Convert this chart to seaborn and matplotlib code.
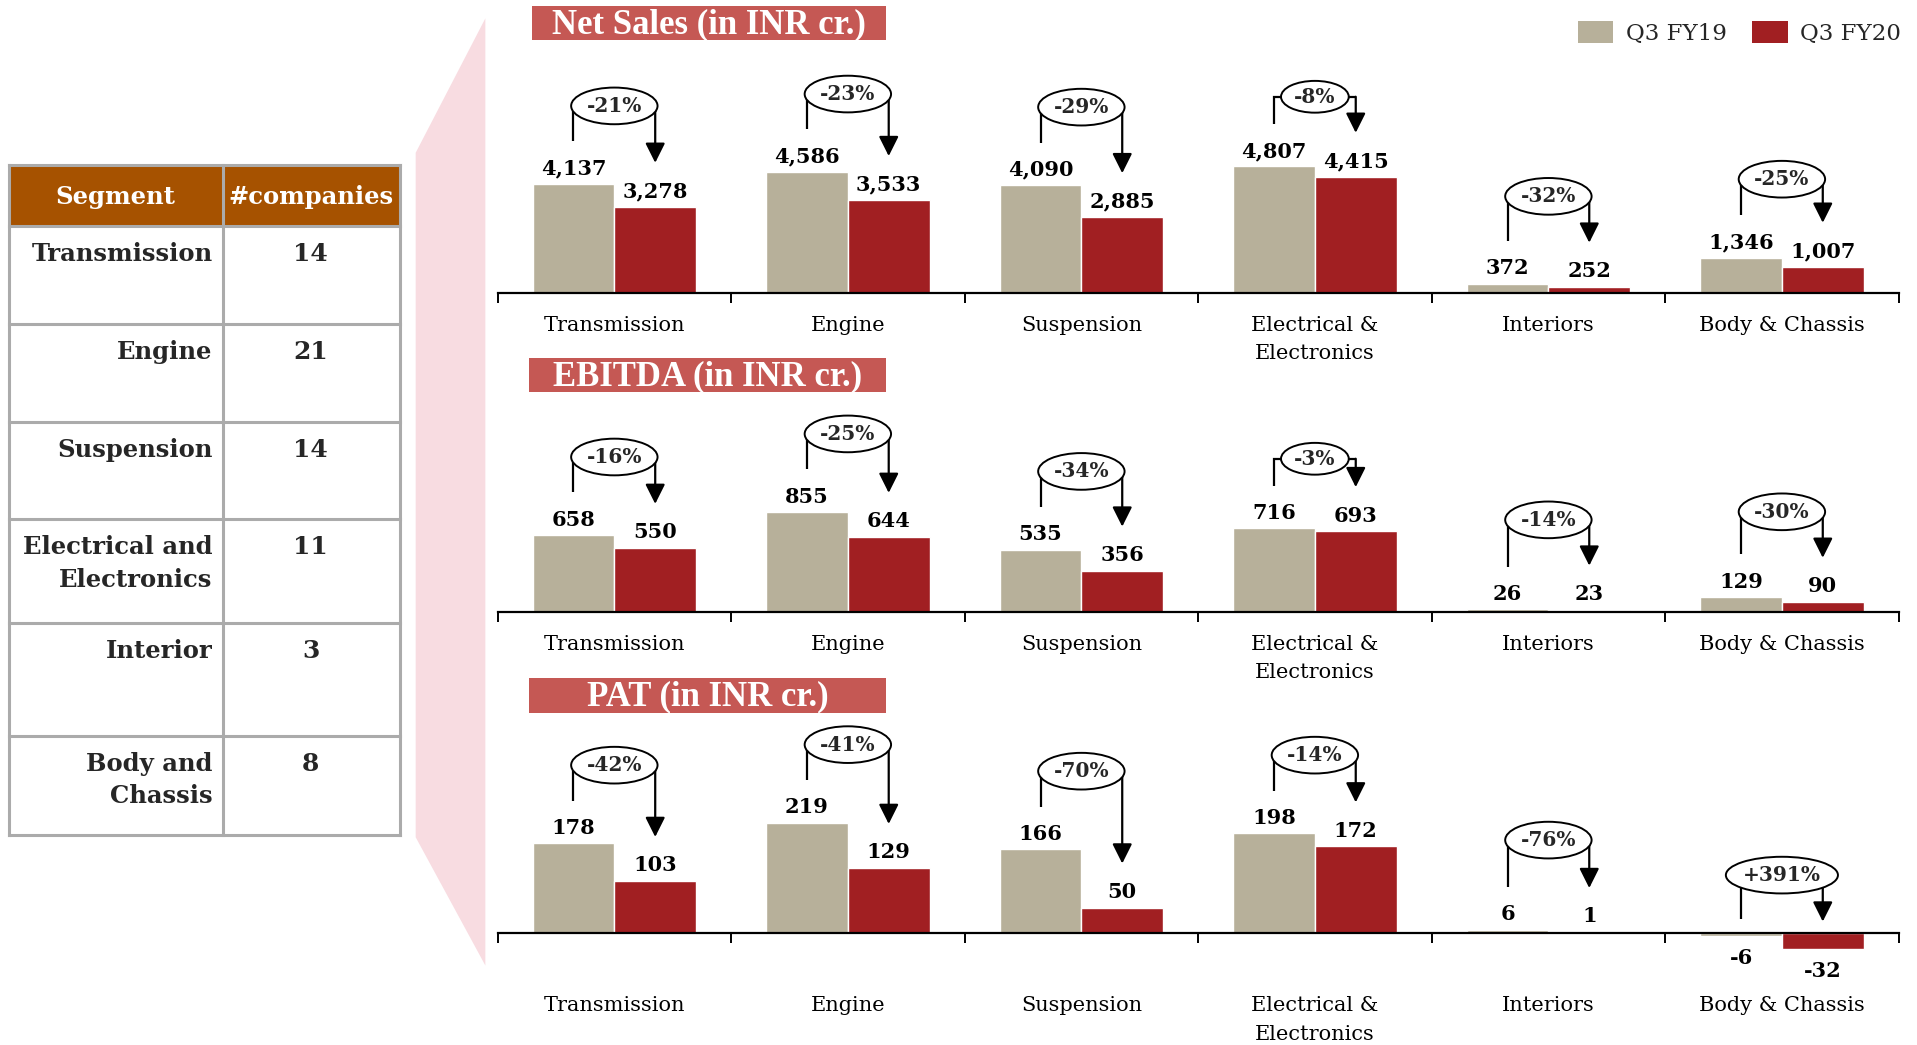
import numpy as np
import pandas as pd
import matplotlib
matplotlib.use("Agg")
import matplotlib.pyplot as plt
import seaborn as sns
from matplotlib.patches import Ellipse, Rectangle, Polygon, Patch

# ---------------- data ----------------
segments = ["Transmission", "Engine", "Suspension", "Electrical & Electronics",
            "Interiors", "Body & Chassis"]
segment_ticklabels = ["Transmission", "Engine", "Suspension", "Electrical &\nElectronics",
                      "Interiors", "Body & Chassis"]
periods = ["Q3 FY19", "Q3 FY20"]

net_sales_fy19 = [4137, 4586, 4090, 4807, 372, 1346]
net_sales_fy20 = [3278, 3533, 2885, 4415, 252, 1007]
net_sales_change = ["-21%", "-23%", "-29%", "-8%", "-32%", "-25%"]

ebitda_fy19 = [658, 855, 535, 716, 26, 129]
ebitda_fy20 = [550, 644, 356, 693, 23, 90]
ebitda_change = ["-16%", "-25%", "-34%", "-3%", "-14%", "-30%"]

pat_fy19 = [178, 219, 166, 198, 6, -6]
pat_fy20 = [103, 129, 50, 172, 1, -32]
pat_change = ["-42%", "-41%", "-70%", "-14%", "-76%", "+391%"]

table_header = ["Segment", "#companies"]
table_segments = ["Transmission", "Engine", "Suspension", "Electrical and\nElectronics",
                  "Interior", "Body and\nChassis"]
table_companies = [14, 21, 14, 11, 3, 8]

# ---------------- style ----------------
GRAY = "#B7B09A"
RED = "#A11F22"
TITLE_RED = "#C55854"
HEADER = "#A65200"
BORDER = "#ABABAB"
PINK = "#F8DCE1"

sns.set_theme(style="white")
plt.rcParams["font.family"] = ["DejaVu Serif"]

W, H = 1568, 855          # layout grid units


def fx(x):
    return x / W


def fy(y):
    return 1 - y / H


fig = plt.figure(figsize=(19.17, 10.45), dpi=100)
fig.patch.set_facecolor("white")

# pink wedge linking the table to the charts
fig.add_artist(Polygon([(fx(340), fy(125)), (fx(397), fy(15)), (fx(397), fy(790)),
                        (fx(340), fy(685))], closed=True, transform=fig.transFigure,
                       facecolor=PINK, edgecolor="none", zorder=-1))

panels = [
    dict(title="Net Sales (in INR cr.)", a=net_sales_fy19, b=net_sales_fy20, chg=net_sales_change,
         base=240, upp=46.3, ylim=(0, 8500), box=(435, 5, 725, 33), pad=16),
    dict(title="EBITDA (in INR cr.)", a=ebitda_fy19, b=ebitda_fy20, chg=ebitda_change,
         base=501, upp=10.43, ylim=(0, 1900), box=(433, 293, 725, 321), pad=16),
    dict(title="PAT (in INR cr.)", a=pat_fy19, b=pat_fy20, chg=pat_change,
         base=763, upp=2.44, ylim=(-60, 420), box=(433, 555, 725, 583), pad=46),
]

for p in panels:
    y0, y1 = p["ylim"]
    k = p["upp"]
    top = p["base"] - y1 / k
    bottom = p["base"] - y0 / k
    ax = fig.add_axes([fx(407), fy(bottom), fx(1553) - fx(407), (bottom - top) / H])
    ax.patch.set_alpha(0)

    df = pd.DataFrame({
        "segment": segments * 2,
        "period": [periods[0]] * len(segments) + [periods[1]] * len(segments),
        "value": list(p["a"]) + list(p["b"]),
    })
    sns.barplot(data=df, x="segment", y="value", hue="period", order=segments,
                hue_order=periods, palette=[GRAY, RED], saturation=1, width=0.7,
                errorbar=None, edgecolor="white", linewidth=1, legend=False, ax=ax)
    ax.set_ylim(y0, y1)
    ax.set_xlim(-0.5, len(segments) - 0.5)
    ax.set_xlabel("")
    ax.set_ylabel("")

    # value labels: above positive bars, a little further below negative ones
    for c in ax.containers:
        vals = c.datavalues
        ax.bar_label(c, labels=[f"{v:,.0f}" if v >= 0 else "" for v in vals], padding=4,
                     fontsize=15, fontweight="bold", color="black")
        ax.bar_label(c, labels=[f"{v:,.0f}" if v < 0 else "" for v in vals], padding=9,
                     fontsize=15, fontweight="bold", color="black")

    # change connectors: line up from FY19, ellipse with % change, arrow down to FY20
    for i, (va, vb, txt) in enumerate(zip(p["a"], p["b"], p["chg"])):
        xl, xr = i - 0.175, i + 0.175
        short = len(txt) <= 3
        hi = max(va, vb, 0)
        off = max(64, 74 - (hi / k) / 3) if hi > 0 else 47
        if short:
            off -= 7
        ey = hi + off * k
        yl = va + 35 * k if va > 0 else 11 * k
        yr = vb + 36 * k if vb > 0 else 9 * k
        ax.plot([xl, xl, xr], [yl, ey, ey], color="black", lw=1.6,
                solid_capstyle="butt", solid_joinstyle="miter", clip_on=False, zorder=4)
        ax.annotate("", xy=(xr, yr), xytext=(xr, ey), annotation_clip=False, zorder=4,
                    arrowprops=dict(arrowstyle="-|>,head_length=0.6,head_width=0.3",
                                    color="black", lw=1.6, shrinkA=0, shrinkB=0,
                                    mutation_scale=20))
        ew = 0.29 if short else 0.37 + 0.11 * (len(txt) - 4)
        eh = 26 if short else 30
        ax.add_patch(Ellipse((i, ey), ew, eh * k, facecolor="white", edgecolor="black",
                             lw=1.4, zorder=5, clip_on=False))
        ax.text(i, ey, txt, ha="center", va="center", fontsize=14.5, fontweight="bold",
                zorder=6)

    for s in ["top", "right", "left"]:
        ax.spines[s].set_visible(False)
    ax.spines["bottom"].set_position(("data", 0))
    ax.spines["bottom"].set_linewidth(1.6)
    ax.spines["bottom"].set_color("black")
    ax.set_yticks([])
    ax.set_xticks(range(len(segments)))
    ax.set_xticklabels(segment_ticklabels, fontsize=15, linespacing=1.65)
    ax.set_xticks(np.arange(-0.5, len(segments), 1), minor=True)
    ax.tick_params(axis="x", which="major", length=0, pad=p["pad"], colors="black")
    ax.tick_params(axis="x", which="minor", length=7, width=1.4, direction="out",
                   color="black", bottom=True)

    # panel title box
    bx0, by0, bx1, by1 = p["box"]
    fig.add_artist(Rectangle((fx(bx0), fy(by1)), fx(bx1) - fx(bx0), (by1 - by0) / H,
                             transform=fig.transFigure, facecolor=TITLE_RED,
                             edgecolor="none", zorder=2))
    fig.text(fx((bx0 + bx1) / 2), fy((by0 + by1) / 2 + 1.5), p["title"], ha="center",
             va="center", color="white", fontsize=25, fontweight="bold",
             family=["Liberation Serif"], zorder=3)

# legend
handles = [Patch(facecolor=GRAY, edgecolor="none"), Patch(facecolor=RED, edgecolor="none")]
fig.legend(handles, periods, loc="upper right", bbox_to_anchor=(fx(1555), fy(17)), ncol=2,
           frameon=False, fontsize=16.5, handlelength=1.55, handleheight=1.1,
           handletextpad=0.55, columnspacing=1.1, borderaxespad=0, borderpad=0)

# segment table
tax = fig.add_axes([fx(7), fy(683), fx(327) - fx(7), (683 - 135) / H])
tax.set_xlim(7, 327)
tax.set_ylim(683, 135)
tax.axis("off")
tax.add_patch(Rectangle((7, 135), 320, 50, facecolor=HEADER, edgecolor="none", zorder=1))
row_edges = [185, 265, 345, 425, 510, 602, 683]
for y in [135] + row_edges:
    tax.plot([7, 327], [y, y], color=BORDER, lw=2.2, zorder=2, clip_on=False,
             solid_capstyle="projecting")
for x in [7, 182, 327]:
    tax.plot([x, x], [135, 683], color=BORDER, lw=2.2, zorder=2, clip_on=False,
             solid_capstyle="projecting")
tax.text(94, 161, table_header[0], ha="center", va="center", color="white",
         fontsize=17.5, fontweight="bold", zorder=3)
tax.text(254, 161, table_header[1], ha="center", va="center", color="white",
         fontsize=17.5, fontweight="bold", zorder=3)
for r, (seg, n) in enumerate(zip(table_segments, table_companies)):
    tax.text(174, row_edges[r] + 13, seg, ha="right", va="top", fontsize=17.5,
             fontweight="bold", linespacing=1.45, zorder=3)
    tax.text(254, row_edges[r] + 13, str(n), ha="center", va="top", fontsize=18,
             fontweight="bold", zorder=3)

fig.savefig("out.png", dpi=100, facecolor="white")
